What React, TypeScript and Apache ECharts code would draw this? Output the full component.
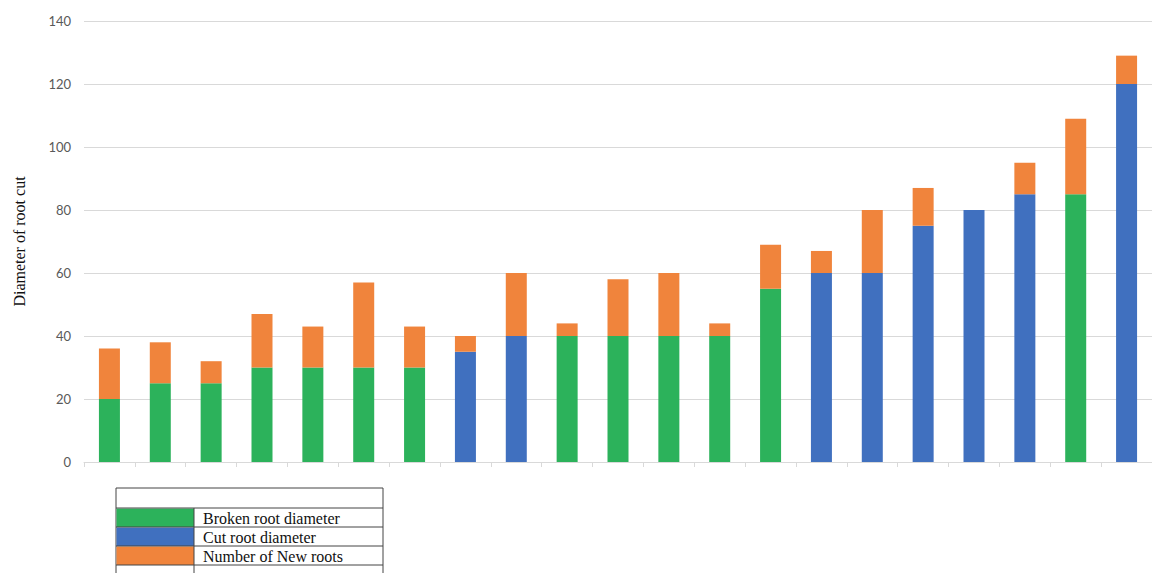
import React, { useEffect, useRef } from "react";
import * as echarts from "echarts";

const categories = ["1","2","3","4","5","6","7","8","9","10","11","12","13","14","15","16","17","18","19","20","21"];
const seriesNames = ["Broken root diameter", "Cut root diameter", "Number of New roots"];
const brokenRoot = [20, 25, 25, 30, 30, 30, 30, 0, 0, 40, 40, 40, 40, 55, 0, 0, 0, 0, 0, 85, 0];
const cutRoot = [0, 0, 0, 0, 0, 0, 0, 35, 40, 0, 0, 0, 0, 0, 60, 60, 75, 80, 85, 0, 120];
const newRoots = [16, 13, 7, 17, 13, 27, 13, 5, 20, 4, 18, 20, 4, 14, 7, 20, 12, 0, 10, 24, 9];
const colors = ["#2cb25b", "#4070bf", "#f0843c"];
const yAxisName = "Diameter of root cut";

export default function App() {
  const ref = useRef<HTMLDivElement>(null);
  useEffect(() => {
    if (!ref.current) return;
    const chart = echarts.init(ref.current, null, { renderer: "svg" });
    const seriesData = [brokenRoot, cutRoot, newRoots];

    // legend table graphic
    const tx = 116, tr = 383, div = 194;
    const rows = [488, 508, 527, 546, 565];
    const graphics: any[] = [];
    graphics.push({ type: "rect", shape: { x: tx, y: rows[0], width: tr - tx, height: 573 - rows[0] + 5 }, style: { fill: "#fff", stroke: "#444", lineWidth: 1 } });
    seriesNames.forEach((name, i) => {
      const y0 = rows[i + 1], y1 = rows[i + 2];
      graphics.push({ type: "rect", shape: { x: tx + 0.5, y: y0 + 0.5, width: div - tx - 0.5, height: y1 - y0 - 0.5 }, style: { fill: colors[i] } });
      graphics.push({ type: "text", x: 203, y: (y0 + y1) / 2 + 1, style: { text: name, font: "16px 'Liberation Serif', 'Times New Roman', serif", fill: "#111", verticalAlign: "middle", align: "left" } });
    });
    rows.slice(1).forEach((y) => {
      graphics.push({ type: "line", shape: { x1: tx, y1: y, x2: tr, y2: y }, style: { stroke: "#444", lineWidth: 1 } });
    });
    graphics.push({ type: "line", shape: { x1: div, y1: rows[1], x2: div, y2: 573 }, style: { stroke: "#444", lineWidth: 1 } });

    chart.setOption({
      animation: false,
      backgroundColor: "#ffffff",
      grid: { left: 84, top: 21, width: 1070, bottom: 111, containLabel: false },
      xAxis: {
        type: "category",
        data: categories,
        axisLine: { show: true, lineStyle: { color: "#d9d9d9", width: 1 } },
        axisTick: { show: true, length: 5, lineStyle: { color: "#d9d9d9" } },
        axisLabel: { show: false },
        splitLine: { show: false },
      },
      yAxis: {
        type: "value",
        min: 0,
        max: 140,
        interval: 20,
        name: yAxisName,
        nameLocation: "middle",
        nameGap: 57,
        nameTextStyle: { fontFamily: "'Liberation Serif', 'Times New Roman', serif", fontSize: 16, color: "#111" },
        axisLine: { show: false },
        axisTick: { show: false },
        axisLabel: { color: "#595959", fontSize: 13, fontFamily: "Lato, 'Open Sans', sans-serif", margin: 13 },
        splitLine: { lineStyle: { color: "#d9d9d9", width: 1 } },
      },
      series: seriesNames.map((name, i) => ({
        name,
        type: "bar",
        stack: "total",
        barWidth: 21,
        data: seriesData[i],
        itemStyle: { color: colors[i] },
      })),
      graphic: graphics,
    });
    return () => chart.dispose();
  }, []);
  return <div ref={ref} style={{ position: "fixed", left: 0, top: 0, width: 1152, height: 573 }} />;
}
